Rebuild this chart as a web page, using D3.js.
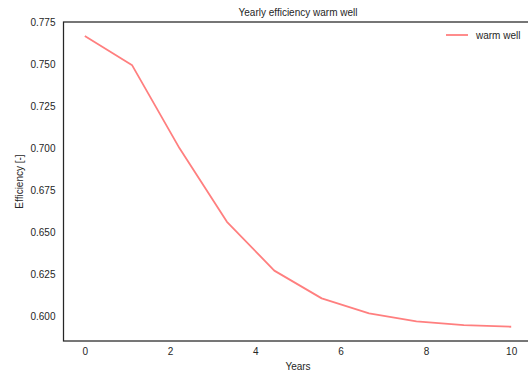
<!DOCTYPE html>
<html>
<head>
<meta charset="utf-8">
<script src="https://cdn.jsdelivr.net/npm/d3@7"></script>
<style>
  body { margin: 0; background: #fff; }
  text { font-family: "Liberation Sans", Arial, sans-serif; fill: #262626; }
</style>
</head>
<body>
<script>
// yearly efficiency of the warm well
var years = [0, 1.111, 2.222, 3.333, 4.444, 5.556, 6.667, 7.778, 8.889, 10];
var efficiency = [0.7667, 0.7492, 0.6998, 0.6561, 0.6270, 0.6105, 0.6016, 0.5968, 0.5946, 0.5936];
var xTicks = [0, 2, 4, 6, 8, 10];
var yTicks = [0.600, 0.625, 0.650, 0.675, 0.700, 0.725, 0.750, 0.775];

var width = 528, height = 378;
var mLeft = 63.5, mTop = 22, mRight = 532.5, mBottom = 341;

var svg = d3.select("body").append("svg").attr("width", width).attr("height", height);

var x = d3.scaleLinear().domain([-0.5, 10.5]).range([mLeft, mRight]);
var y = d3.scaleLinear().domain([0.58512, 0.775]).range([mBottom, mTop]);

// line
var line = d3.line()
    .x(function(d, i){ return x(years[i]); })
    .y(function(d){ return y(d); });

svg.append("path")
    .attr("fill", "none")
    .attr("stroke", "#ff7f7f")
    .attr("stroke-width", 1.8)
    .attr("stroke-linejoin", "round")
    .attr("d", line(efficiency));

// axes
var xAxis = svg.append("g").attr("transform", "translate(0," + mBottom + ")")
    .call(d3.axisBottom(x).tickValues(xTicks).tickSize(0).tickPadding(7).tickFormat(d3.format("d")));
var yAxis = svg.append("g").attr("transform", "translate(" + mLeft + ",0)")
    .call(d3.axisLeft(y).tickValues(yTicks).tickSize(0).tickPadding(8).tickFormat(d3.format(".3f")));

[xAxis, yAxis].forEach(function(g){
  g.select(".domain").remove();
  g.selectAll("text").attr("font-size", 10).style("fill", "#262626")
    .attr("font-family", "Liberation Sans, Arial, sans-serif");
});

// spines
svg.append("rect")
    .attr("x", mLeft).attr("y", mTop)
    .attr("width", mRight - mLeft).attr("height", mBottom - mTop)
    .attr("fill", "none")
    .attr("stroke", "#262626")
    .attr("stroke-width", 1.25);

// title and labels
svg.append("text").attr("x", (mLeft + mRight) / 2).attr("y", 16)
    .attr("text-anchor", "middle").attr("font-size", 10)
    .text("Yearly efficiency warm well");

svg.append("text").attr("x", (mLeft + mRight) / 2).attr("y", 370)
    .attr("text-anchor", "middle").attr("font-size", 10)
    .text("Years");

svg.append("text")
    .attr("transform", "translate(23," + ((mTop + mBottom) / 2) + ") rotate(-90)")
    .attr("text-anchor", "middle").attr("font-size", 10)
    .text("Efficiency [-]");

// legend
var legend = svg.append("g");
legend.append("line")
    .attr("x1", 446).attr("x2", 468).attr("y1", 35).attr("y2", 35)
    .attr("stroke", "#ff7f7f").attr("stroke-width", 1.8);
legend.append("text").attr("x", 476).attr("y", 38.5)
    .attr("font-size", 10).text("warm well");
</script>
</body>
</html>
